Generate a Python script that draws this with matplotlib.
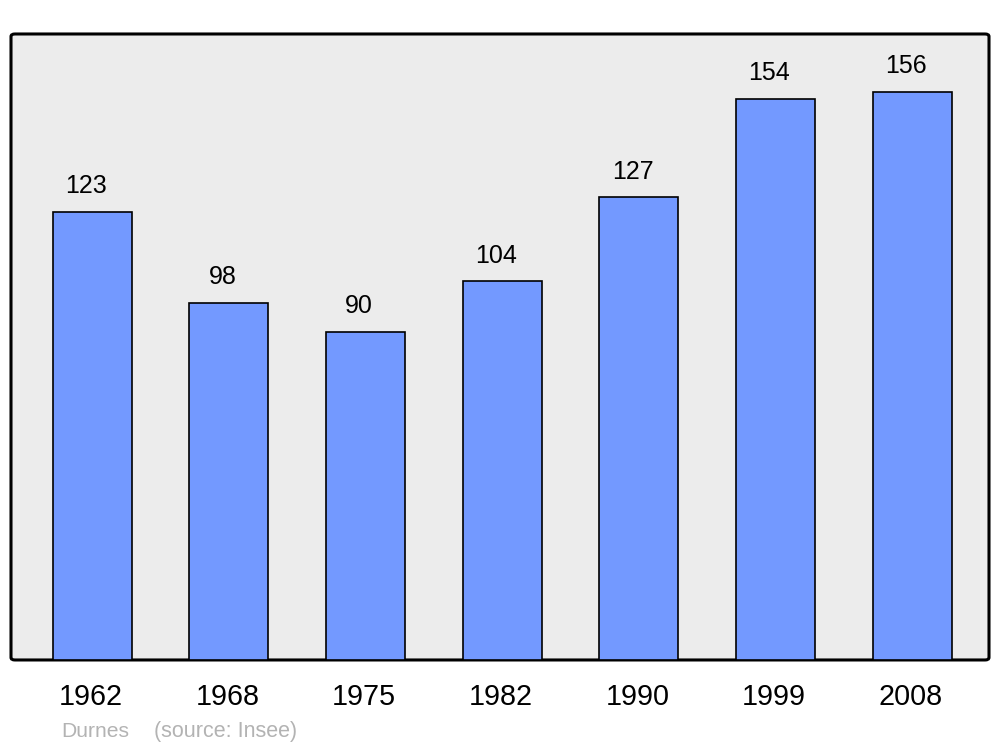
import matplotlib
matplotlib.use('Agg')
import matplotlib.pyplot as plt
from matplotlib.patches import FancyBboxPatch

plt.rcParams['font.family'] = ['Liberation Sans', 'DejaVu Sans']

years = ['1962', '1968', '1975', '1982', '1990', '1999', '2008']
population = [123, 98, 90, 104, 127, 154, 156]
commune = 'Durnes'
source = '(source: Insee)'

fig = plt.figure(figsize=(10, 7.47), dpi=100)
ax = fig.add_axes([0.011, 0.1165, 0.978, 0.838])
ax.set_facecolor('none')
for s in ax.spines.values():
    s.set_visible(False)

# fond arrondi
bg = FancyBboxPatch((0, 0), 1, 1, boxstyle='round,pad=0,rounding_size=0.004',
                    transform=ax.transAxes, facecolor='#ececec', edgecolor='black',
                    linewidth=2.2, zorder=0, clip_on=False)
ax.add_patch(bg)

x = list(range(len(years)))
ax.bar(x, population, width=0.578, color='#7399ff', edgecolor='black',
       linewidth=1.2, zorder=2)

for i, v in zip(x, population):
    ax.annotate(str(v), (i, v), xytext=(-4.5, 13.5), textcoords='offset points',
                ha='center', va='baseline', fontsize=18)
    ax.annotate(years[i], (i, 0), xytext=(-1, -32.5), textcoords='offset points',
                ha='center', va='baseline', fontsize=20.7, annotation_clip=False)

ax.set_xlim(-0.593, 6.563)
ax.set_ylim(0, 171.9)
ax.set_xticks([])
ax.set_yticks([])

fig.text(0.061, 1 - 737 / 747, commune, color='#b3b3b3', fontsize=15.2, va='baseline')
fig.text(0.154, 1 - 737 / 747, source, color='#b3b3b3', fontsize=15.5, va='baseline')

fig.savefig('out.png', dpi=100)
